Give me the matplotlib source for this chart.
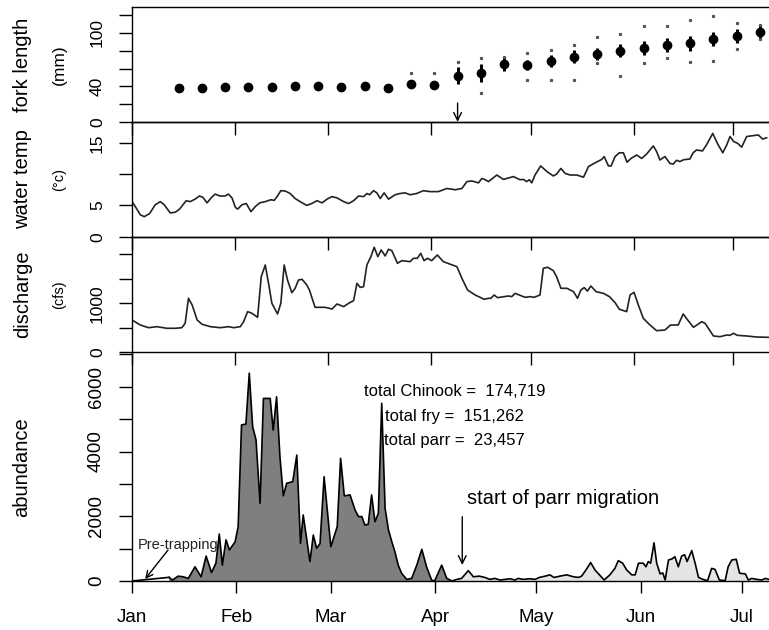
import numpy as np
import matplotlib
matplotlib.use("Agg")
import matplotlib.pyplot as plt

plt.rcParams['font.family'] = ['Liberation Sans', 'DejaVu Sans']

nan = np.nan

# month ticks (day of year, starting Jan 1 = 0)
month_days = [0, 31, 59, 90, 120, 151, 181]
month_labels = ['Jan', 'Feb', 'Mar', 'Apr', 'May', 'Jun', 'Jul']

# fork length (weekly samples)
fl_days = [14, 21, 28, 35, 42, 49, 56, 63, 70, 77, 84, 91, 98, 105, 112, 119, 126,
           133, 140, 147, 154, 161, 168, 175, 182, 189]
fl_mean = [38.6, 38.6, 39.7, 39.7, 39.7, 40.8, 40.8, 39.7, 40.8, 38.6, 42.7, 41.5, 51.7,
           55.4, 65.1, 63.9, 68.4, 73.2, 76.3, 79.9, 83.3, 86.3, 88.2, 93.0, 96.3, 101.1]
fl_sd = [1.5, 1.5, 1.5, 1.5, 1.5, 1.5, 1.5, 1.5, 1.5, 1.5, 3, 3, 9.5, 10, 7.4, 5.6, 7,
         7, 6.5, 7.4, 8, 7.4, 8.2, 8.2, 7.4, 8]
fl_min = [nan, nan, nan, nan, nan, nan, nan, nan, nan, nan, nan, nan, nan, 32.4, nan,
          47.2, 47.2, 47.2, 65.8, 52, 66.5, 72.3, 67.6, 68.4, 81.5, 93]
fl_max = [nan, nan, nan, nan, nan, nan, nan, nan, nan, nan, 54.7, 55.4, 67.3, 71.4, 73.2,
          77.7, 80.7, 86.3, 95.5, 98.5, 107.8, 107.8, 114.2, 118.6, 111.2, 108.6]

# water temperature
temp_days = [0, 1, 2.5, 3.7, 5.3, 7, 8.5, 9.7, 11.5, 13, 14.3, 16.3, 17.5, 19, 20.3, 21.3,
             22.6, 23.8, 25, 26.5, 28, 29, 30.1, 31.1, 31.8, 33.1, 34.4, 35.8, 37.1, 38.4,
             40.1, 41.8, 42.8, 43.8, 44.8, 46.1, 47.6, 49.1, 50.6, 52.6, 54.1, 55.7, 57.2,
             58.7, 60.2, 61.7, 63.7, 65.2, 66.7, 68.2, 69.7, 70.7, 71.5, 72.7, 73.7, 74.7,
             75.9, 77.2, 79.2, 80.7, 82.2, 83.7, 85.7, 87.7, 89.7, 92.2, 94.8, 97.3, 99.3,
             100.8, 102.3, 104.3, 105.3, 106.3, 107.3, 109.8, 111.8, 114.8, 116.8, 117.8,
             118.8, 119.6, 120.3, 121.3, 123, 124.9, 126.8, 127.8, 129.1, 130.4, 131.9,
             133.9, 135.9, 137.4, 139.4, 141.4, 142.1, 143.4, 144.2, 145.4, 146.7, 147.9,
             149, 150.2, 151.9, 153.4, 154.9, 156.9, 157.9, 158.9, 160.4, 161.9, 162.9,
             163.9, 164.9, 166.1, 167.9, 168.9, 169.9, 171.7, 172.9, 174.8, 176.2, 177.8,
             179, 180, 181.1, 182.3, 183.5, 185, 186.5, 188.5, 189.8, 191]
temp_vals = [5.6, 4.8, 3.5, 3.2, 3.7, 5.1, 5.6, 5.1, 3.8, 3.9, 4.4, 5.75, 5.6, 6.0, 6.5, 6.3,
             5.4, 6.2, 6.8, 6.5, 6.5, 6.8, 6.2, 4.7, 4.4, 5.1, 5.3, 4.0, 4.8, 5.4, 5.6, 5.9,
             5.8, 6.5, 7.35, 7.3, 6.9, 6.1, 5.6, 5.0, 5.3, 5.75, 5.4, 6.0, 6.4, 6.2, 5.6,
             5.3, 5.75, 6.5, 6.4, 6.9, 6.7, 7.35, 7.0, 6.1, 7.0, 6.0, 6.7, 6.9, 7.0, 6.7,
             6.9, 7.35, 7.2, 7.2, 7.7, 7.5, 7.7, 8.8, 8.9, 8.6, 9.3, 9.1, 8.8, 9.85, 9.15,
             9.6, 9.1, 9.15, 8.8, 9.1, 8.6, 9.85, 11.3, 10.4, 9.7, 10.0, 10.9, 10.1, 9.85,
             9.85, 9.5, 11.2, 11.8, 12.35, 12.8, 11.3, 11.3, 12.8, 13.4, 13.4, 11.9, 12.5,
             13.05, 12.5, 13.2, 14.5, 13.6, 12.25, 12.8, 11.7, 11.6, 12.2, 12.0, 12.3, 12.4,
             13.4, 13.85, 13.7, 14.65, 16.5, 14.9, 13.4, 14.65, 16.0, 15.2, 14.9, 14.3,
             16.0, 16.1, 16.25, 15.6, 15.8]

# discharge
q_days = [0, 2.5, 5, 7.5, 10.5, 13, 15, 16, 17, 18.1, 19.6, 21.1, 23.6, 26.6, 29, 30.6,
          32.6, 33.6, 34.8, 36.1, 37.8, 38.9, 40.1, 41.1, 42.1, 43.8, 44.8, 45.8, 46.8,
          48.1, 49.1, 50.1, 51.2, 52.6, 53.4, 55.1, 56.6, 58.1, 60.2, 61.7, 63.7, 65.2,
          66.7, 67.7, 68.7, 69.7, 70.7, 71.9, 72.9, 74, 75, 76.2, 77.2, 78.2, 79.9, 81.2,
          83.7, 84.7, 85.9, 86.9, 87.9, 88.9, 90.2, 91.9, 93.7, 97.8, 99.3, 101, 103.3,
          106, 107.3, 108, 109, 110, 113.3, 114.3, 115.3, 118.3, 119.8, 121, 122.8, 123.8,
          125.1, 126.8, 127.8, 129.1, 130.9, 132.9, 134.1, 135.1, 136.1, 137.1, 138.1,
          139.7, 141.9, 143.7, 145.4, 146.7, 148.9, 149.9, 151.1, 152.4, 153.9, 155.9,
          157.9, 160.4, 162.1, 164.4, 165.9, 167.1, 169, 171.5, 172.5, 175, 177, 179, 180,
          181, 182.2, 185, 188, 191.5]
q_vals = [660, 557, 502, 523, 490, 490, 502, 592, 1102, 966, 660, 571, 523, 502, 523, 502,
          523, 625, 830, 796, 714, 1543, 1782, 1407, 1000, 782, 1000, 1782, 1475, 1217,
          1305, 1475, 1489, 1374, 1271, 918, 918, 918, 884, 986, 932, 1000, 1054, 1407,
          1325, 1339, 1782, 1952, 2143, 1952, 2088, 1966, 2102, 2075, 1816, 1870, 1850,
          1918, 1918, 2020, 1870, 1918, 1870, 1986, 1850, 1747, 1509, 1271, 1169, 1082,
          1102, 1102, 1169, 1115, 1149, 1136, 1203, 1122, 1136, 1122, 1169, 1714, 1735,
          1667, 1543, 1306, 1306, 1237, 1102, 1271, 1320, 1250, 1353, 1237, 1203, 1136,
          1013, 877, 830, 1169, 1224, 966, 693, 557, 441, 455, 557, 557, 782, 673, 510,
          625, 590, 333, 319, 353, 346, 387, 346, 333, 312, 306]

# abundance
pretrap_days = [0, 11]
pretrap_vals = [0, 113]
fry_days = [11, 12, 13.7, 15.2, 16.7, 18.7, 20.5, 22, 23.6, 24.9, 25.9, 26.8, 27.9, 28.9,
            30.6, 31.5, 32.5, 33.8, 34.8, 35.8, 36.8, 38, 39, 41, 41.9, 42.9, 43.9, 44.9,
            45.9, 47.7, 48.9, 50, 50.8, 52.8, 53.8, 54.8, 55.8, 57, 59, 60.9, 61.9, 63,
            64.7, 66.2, 67.2, 68.2, 69.1, 70.1, 71.1, 72.1, 73.1, 74.1, 75.1, 76.1, 77.1,
            78, 79, 80, 81.5, 83, 84.5, 86, 87.4, 88.9, 89.8, 91.9, 93.4, 95]
fry_vals = [113, 30, 150, 130, 80, 440, 130, 770, 260, 550, 1450, 490, 1270, 960, 1210,
            1680, 4820, 4850, 6420, 4770, 4360, 2400, 5640, 5640, 4660, 5690, 3840, 2630,
            3020, 3070, 3890, 1160, 2040, 600, 1420, 1010, 1160, 3220, 1060, 1680, 3790,
            2630, 2660, 2190, 1990, 1990, 1730, 1750, 2660, 1830, 2090, 5490, 2250, 1580,
            1210, 910, 490, 240, 50, 80, 490, 980, 440, 30, 0, 490, 80, 0]
parr_days = [95, 96.4, 97.8, 99.8, 101.3, 103, 104.7, 106.2, 107.7, 109.2, 110.7, 112.2,
             113.6, 114.6, 116.1, 118.1, 119.6, 120.9, 122.6, 124, 125.2, 127, 129, 131,
             132.5, 133.4, 134.7, 136.1, 137.4, 138.7, 140.1, 141.8, 143.3, 144.3, 145.6,
             146.8, 148.3, 149.3, 150.3, 151.7, 152.5, 153.2, 153.9, 154.9, 155.7, 156.7,
             157.5, 158.2, 159.2, 160.2, 161.1, 162.1, 163.1, 164, 164.7, 166.1, 167.1,
             168.1, 169.4, 170.8, 172, 173, 174.3, 176, 176.9, 178, 179.3, 180.3, 182,
             182.9, 183.9, 185.4, 186.9, 187.9, 189]
parr_vals = [0, 50, 80, 320, 130, 150, 110, 50, 80, 30, 50, 70, 30, 80, 50, 70, 50, 110,
             150, 190, 110, 150, 190, 130, 110, 150, 340, 570, 340, 190, 30, 190, 390, 630,
             550, 340, 190, 190, 550, 550, 440, 600, 550, 1180, 550, 220, 250, 30, 650, 680,
             750, 440, 770, 810, 600, 940, 550, 110, 50, 10, 390, 360, 30, 10, 440, 650,
             670, 240, 220, 30, 80, 50, 30, 80, 50]

parr_start = 98
totals = ['total Chinook =  174,719', 'total fry =  151,262', 'total parr =  23,457']

W, H = 769, 630
fig = plt.figure(figsize=(W / 100, H / 100), dpi=100)
fig.patch.set_facecolor('white')


def px_axes(top, bottom):
    left = 132 / W
    return fig.add_axes([left, 1 - bottom / H, 1 - left, (bottom - top) / H])


ax1 = px_axes(7, 122.3)
ax2 = px_axes(122.3, 236.7)
ax3 = px_axes(236.7, 352.3)
ax4 = px_axes(352.3, 581)

for ax in (ax1, ax2, ax3, ax4):
    ax.patch.set_visible(False)
    ax.spines['right'].set_visible(False)
    for s in ('left', 'top', 'bottom'):
        ax.spines[s].set_linewidth(1.0)
    ax.tick_params(axis='y', which='both', direction='out', length=9.5, width=1.0,
                   pad=10, labelsize=12.5)
    ax.tick_params(axis='x', direction='out', length=9, width=1.0)

top_xmax = (W - 131.7) / 3.324
for ax in (ax1, ax2, ax3):
    ax.set_xlim(0, top_xmax)
    ax.set_xticks(month_days)
    ax.set_xticklabels([])

# fork length
ax1.set_ylim(0, 128.7)
ax1.set_yticks([0, 20, 40, 60, 80, 100, 120])
ax1.set_yticklabels(['0', '', '40', '', '', '100', ''], rotation=90, va='center')
fl_d = np.array(fl_days)
fl_m = np.array(fl_mean)
fl_s = np.array(fl_sd)
ax1.vlines(fl_d, fl_m - fl_s, fl_m + fl_s, color='black', lw=2.2, zorder=2)
ax1.plot(fl_days, fl_min, 's', color='#555555', ms=1.3, zorder=2)
ax1.plot(fl_days, fl_max, 's', color='#555555', ms=1.3, zorder=2)
ax1.plot(fl_days, fl_mean, 'o', color='black', ms=6, zorder=3)
ax1.annotate('', xy=(parr_start, 0.5), xytext=(parr_start, 21.5),
             arrowprops=dict(arrowstyle='->', color='black', lw=1.0,
                             mutation_scale=14, shrinkA=0, shrinkB=0),
             annotation_clip=False)

# water temp
ax2.set_ylim(0, 18.27)
ax2.set_yticks([0, 5, 10, 15])
ax2.set_yticklabels(['0', '5', '', '15'], rotation=90, va='center')
ax2.plot(temp_days, temp_vals, color='#222222', lw=1.2)

# discharge
ax3.set_ylim(0, 2359)
ax3.set_yticks([0, 500, 1000, 1500, 2000])
ax3.set_yticklabels(['0', '', '1000', '', ''], rotation=90, va='center')
ax3.plot(q_days, q_vals, color='#222222', lw=1.2)

# abundance
ax4.set_xlim(0, (W - 132) / 3.37)
ax4.set_ylim(0, 7065)
ax4.set_yticks(range(0, 8000, 1000))
ax4.set_yticklabels(['0', '', '2000', '', '4000', '', '6000', ''], rotation=90,
                    va='center')
ax4.set_xticks(month_days)
ax4.set_xticklabels(month_labels)
ax4.tick_params(axis='x', length=8.5, pad=12, labelsize=13.5)
ax4.tick_params(axis='y', labelsize=13.5)
ax4.spines['top'].set_visible(False)

ax4.fill_between(fry_days, fry_vals, 0, facecolor='#7f7f7f', edgecolor='none')
ax4.plot(fry_days, fry_vals, color='black', lw=1.2)
ax4.fill_between(parr_days, parr_vals, 0, facecolor='#e4e4e4', edgecolor='none')
ax4.plot(parr_days, parr_vals, color='black', lw=1.2)
ax4.plot(pretrap_days, pretrap_vals, color='black', lw=1.2)

ax4.text(68.8, 5848, totals[0], fontsize=12, va='center')
ax4.text(75.1, 5076, totals[1], fontsize=12, va='center')
ax4.text(74.8, 4334, totals[2], fontsize=12, va='center')
ax4.text(99.3, 2560, 'start of parr migration', fontsize=14.5, va='center')
ax4.annotate('', xy=(parr_start, 494), xytext=(parr_start, 1986),
             arrowprops=dict(arrowstyle='->', color='black', lw=1.0,
                             mutation_scale=14, shrinkA=0, shrinkB=0))
ax4.text(1.8, 1112, 'Pre-trapping', fontsize=10.5, va='center', color='#222222')
ax4.annotate('', xy=(3.9, 62), xytext=(10.7, 958),
             arrowprops=dict(arrowstyle='->', color='black', lw=1.0,
                             mutation_scale=12, shrinkA=0, shrinkB=0))

# y axis titles
def ylab(x, y, s, size):
    fig.text(x / W, 1 - y / H, s, rotation=90, ha='center', va='center', fontsize=size)


ylab(23, 64.6, 'fork length', 14.5)
ylab(59, 64.6, '(mm)', 12.5)
ylab(23, 179.5, 'water temp', 14.5)
ylab(59, 179.5, '(°c)', 10.5)
ylab(23, 294.5, 'discharge', 14.5)
ylab(59, 294.5, '(cfs)', 10.5)
ylab(22, 466.7, 'abundance', 14.5)

fig.savefig('out.png', dpi=100, facecolor='white')
